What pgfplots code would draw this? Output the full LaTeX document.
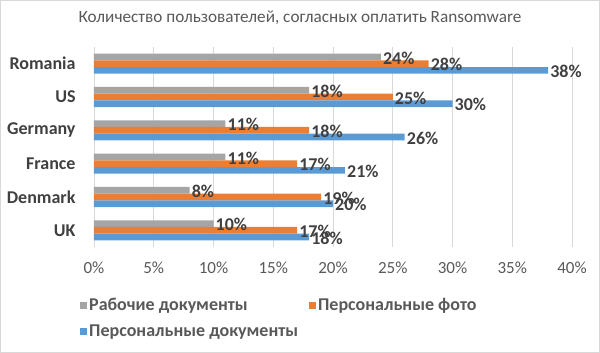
\documentclass[border=0pt]{standalone}
\usepackage{pgfplots}
\usepackage{pgfplotstable}
\pgfplotsset{compat=1.18}
\usepackage{fontspec}
\setmainfont{Carlito}
\definecolor{cgray}{HTML}{A5A5A5}
\definecolor{corange}{HTML}{ED7D31}
\definecolor{cblue}{HTML}{5B9BD5}
\definecolor{txt}{HTML}{595959}
\definecolor{txtd}{HTML}{404040}
\definecolor{gridc}{HTML}{D9D9D9}
\pgfplotsset{
  sqlegend/.style={legend image code/.code={\fill[#1] (0pt,-3.5pt) rectangle (7pt,3.5pt);}}
}
\pgfplotstableread{
y work photo docs
5 24 28 38
4 18 25 30
3 11 18 26
2 11 17 21
1 8 19 20
0 10 17 18
}\data
\begin{document}
\begin{tikzpicture}[x=1pt,y=1pt]
\path[use as bounding box] (0,0) rectangle (600,-353);
\draw[gridc, line width=0.8pt] (0.4,-0.4) rectangle (599.6,-352.6);
\node[text=txt, font=\fontsize{17.2}{20}\selectfont] at (300,-18) {Количество пользователей, согласных оплатить Ransomware};
\begin{axis}[
  at={(94pt,-47pt)}, anchor=north west,
  scale only axis, width=478pt, height=200pt,
  xbar=0pt, bar width=6.7pt,
  xmin=0, xmax=40, ymin=-0.5, ymax=5.5,
  xtick={0,5,...,40},
  xticklabels={0\%,5\%,10\%,15\%,20\%,25\%,30\%,35\%,40\%},
  ytick={0,1,2,3,4,5},
  yticklabels={UK,Denmark,France,Germany,US,Romania},
  xmajorgrids, major grid style={draw=gridc, line width=0.8pt},
  axis line style={draw=none},
  tick style={draw=none},
  /pgf/number format/assume math mode=true,
  xticklabel style={font=\fontsize{17}{20}\selectfont, text=txt, inner sep=0pt, yshift=-15pt},
  yticklabel style={font=\fontsize{18}{21}\selectfont\bfseries, text=txtd, inner sep=0pt, xshift=-14pt},
  nodes near coords={\pgfmathprintnumber[assume math mode=true]{\pgfplotspointmeta}\%},
  point meta=x,
  every node near coord/.append style={font=\fontsize{18}{21}\selectfont\bfseries, text=txtd, anchor=west, inner sep=2pt, yshift=-1pt},
  legend columns=2,
  legend cell align=left,
  legend style={at={(axis description cs:-0.0293,-0.245)}, anchor=north west, draw=none, fill=none, inner sep=0pt,
    font=\fontsize{18}{21}\selectfont\bfseries, text=txt, row sep=9pt,
    /tikz/every even column/.append style={column sep=9pt}},
]
\addplot[fill=cgray, draw=none, sqlegend, bar shift=6.7pt] table[x=work,y=y]{\data};
\addplot[fill=corange, draw=none, sqlegend, bar shift=0pt] table[x=photo,y=y]{\data};
\addplot[fill=cblue, draw=none, sqlegend, bar shift=-6.7pt] table[x=docs,y=y]{\data};
\legend{Рабочие документы, Персональные фото, Персональные документы}
\end{axis}
\end{tikzpicture}
\end{document}
